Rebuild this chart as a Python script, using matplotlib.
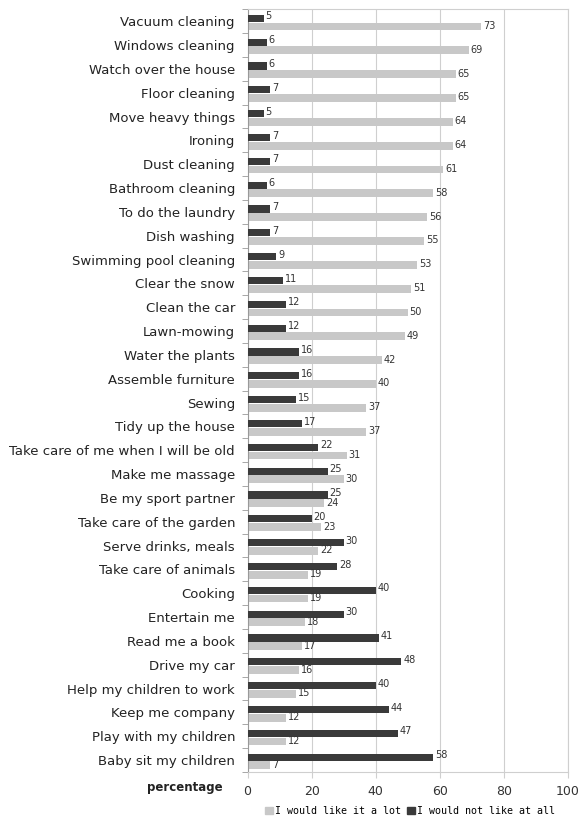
import numpy as np
import matplotlib
matplotlib.use("Agg")
import matplotlib.pyplot as plt
from matplotlib.patches import Patch

# tasks, top to bottom
tasks = [
    "Vacuum cleaning", "Windows cleaning", "Watch over the house", "Floor cleaning",
    "Move heavy things", "Ironing", "Dust cleaning", "Bathroom cleaning",
    "To do the laundry", "Dish washing", "Swimming pool cleaning", "Clear the snow",
    "Clean the car", "Lawn-mowing", "Water the plants", "Assemble furniture",
    "Sewing", "Tidy up the house", "Take care of me when I will be old",
    "Make me massage", "Be my sport partner", "Take care of the garden",
    "Serve drinks, meals", "Take care of animals", "Cooking", "Entertain me",
    "Read me a book", "Drive my car", "Help my children to work",
    "Keep me company", "Play with my children", "Baby sit my children",
]
like_a_lot = [73, 69, 65, 65, 64, 64, 61, 58, 56, 55, 53, 51, 50, 49, 42, 40,
              37, 37, 31, 30, 24, 23, 22, 19, 19, 18, 17, 16, 15, 12, 12, 7]
not_like = [5, 6, 6, 7, 5, 7, 7, 6, 7, 7, 9, 11, 12, 12, 16, 16,
            15, 17, 22, 25, 25, 20, 30, 28, 40, 30, 41, 48, 40, 44, 47, 58]
xticks = [0, 20, 40, 60, 80, 100]

light = "#c8c8c8"
dark = "#3a3a3a"
grid_c = "#cfcfcf"

fig = plt.figure(figsize=(5.83, 8.21), dpi=100)
ax = fig.add_axes([247.5 / 583, 1 - 772 / 821, (568 - 247.5) / 583, (772 - 9.3) / 821])

y = np.arange(len(tasks))
ax.barh(y + 0.22, like_a_lot, height=0.33, color=light, zorder=2)
ax.barh(y - 0.12, not_like, height=0.3, color=dark, zorder=3)

for i in range(len(tasks)):
    ax.text(like_a_lot[i] + 0.6, y[i] + 0.2, str(like_a_lot[i]), fontsize=7,
            color="#333333", va="center", ha="left", zorder=4)
    ax.text(not_like[i] + 0.6, y[i] - 0.2, str(not_like[i]), fontsize=7,
            color="#333333", va="center", ha="left", zorder=4)

ax.set_xlim(0, 100)
ax.set_ylim(len(tasks) - 0.5, -0.5)
ax.set_xticks(xticks)
ax.set_xticklabels([str(v) for v in xticks], fontsize=9, color="#333333")
ax.tick_params(axis="x", length=4, color=grid_c, pad=5)

# category labels at centres, tick marks between categories
ax.set_yticks(y)
ax.set_yticklabels(tasks, fontsize=9.5, color="#222222")
ax.tick_params(axis="y", which="major", length=0, pad=9)
ax.set_yticks(np.arange(-0.5, len(tasks), 1), minor=True)
ax.tick_params(axis="y", which="minor", length=4, color="#999999")

ax.grid(axis="x", color=grid_c, linewidth=0.8, zorder=0)
ax.set_axisbelow(True)
for side in ["top", "right", "bottom"]:
    ax.spines[side].set_color(grid_c)
    ax.spines[side].set_linewidth(0.8)
ax.spines["left"].set_color("#999999")
ax.spines["left"].set_linewidth(0.8)

fig.text(185 / 583, 1 - 787 / 821, "percentage", fontsize=8.5, fontweight="bold",
         ha="center", va="center", color="#222222")

handles = [Patch(color=light, label="I would like it a lot"),
           Patch(color=dark, label="I would not like at all")]
fig.legend(handles=handles, loc="center", bbox_to_anchor=(410 / 583, 1 - 811 / 821),
           ncol=2, frameon=False, prop={"family": "DejaVu Sans Mono", "size": 7.2},
           handlelength=0.8, handleheight=0.8, handletextpad=0.2, columnspacing=0.6,
           borderpad=0)

fig.savefig("out.png", dpi=100)
